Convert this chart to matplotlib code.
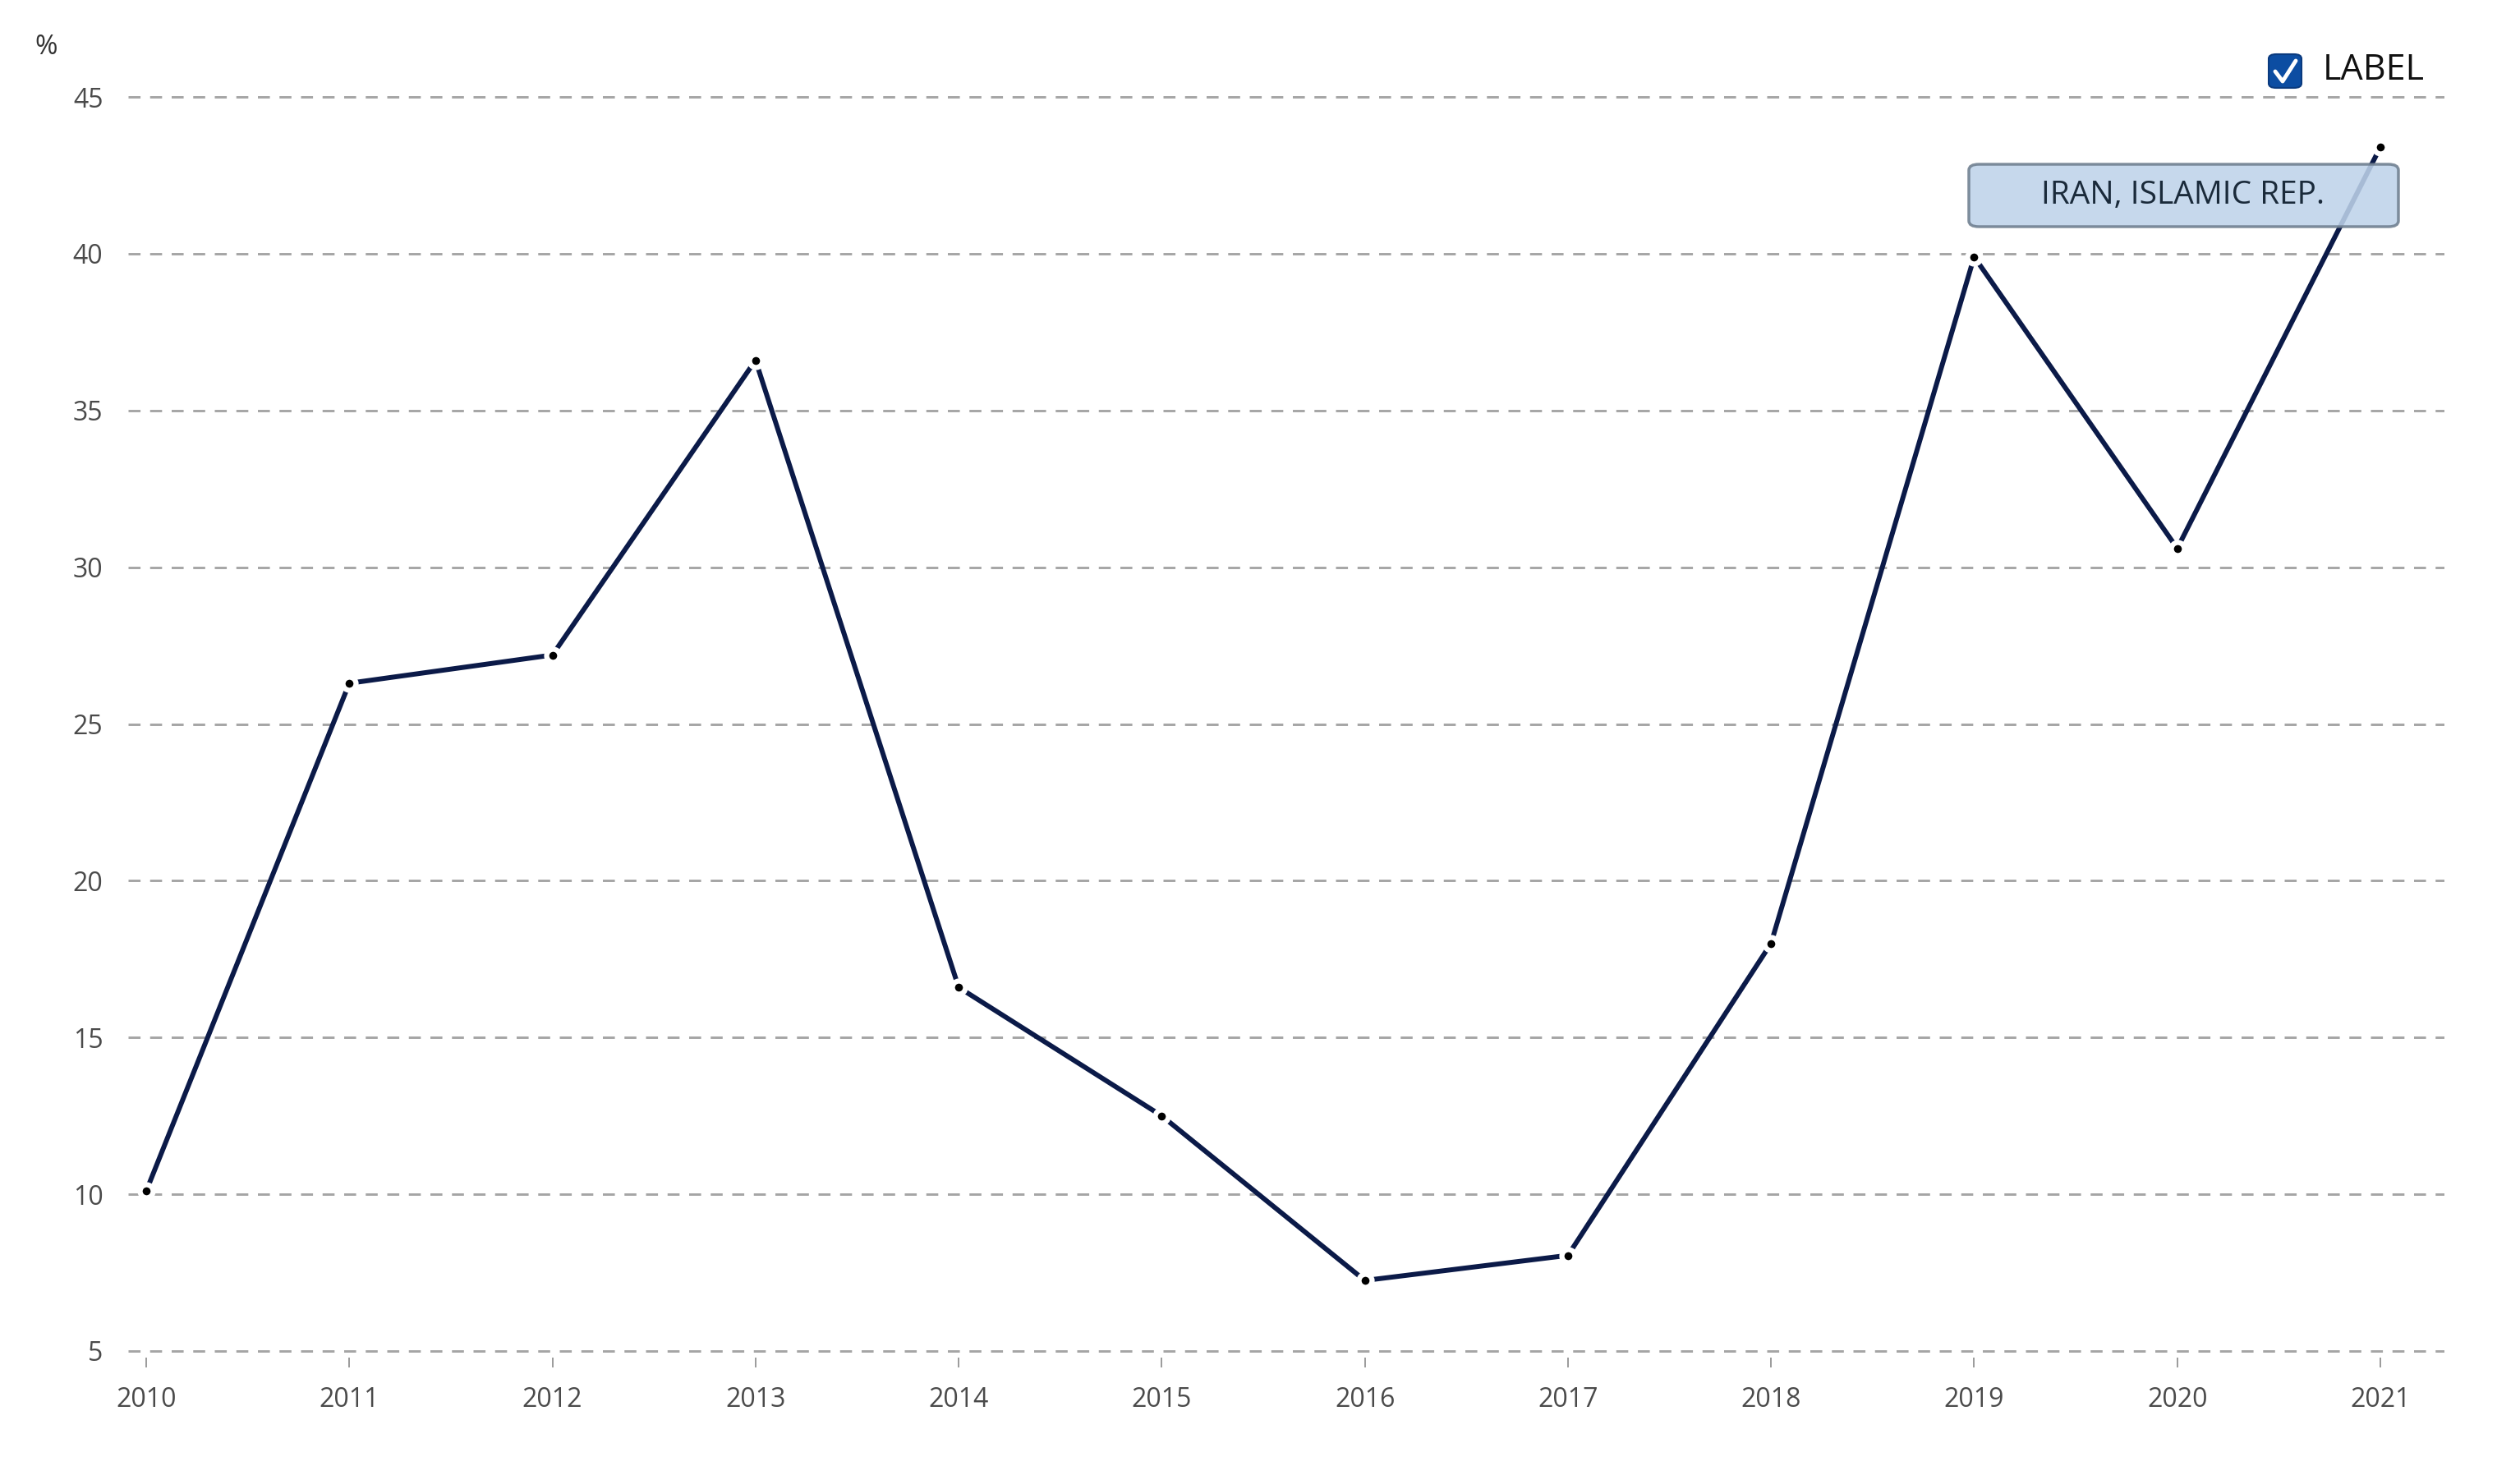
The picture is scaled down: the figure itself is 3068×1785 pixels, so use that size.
import matplotlib.pyplot as plt
from matplotlib.patches import FancyBboxPatch
import numpy as np

# values
years = [2010, 2011, 2012, 2013, 2014, 2015, 2016, 2017, 2018, 2019, 2020, 2021]
values = [10.1, 26.3, 27.2, 36.6, 16.6, 12.5, 7.25, 8.05, 18.0, 39.9, 30.6, 43.4]
yticks = [5, 10, 15, 20, 25, 30, 35, 40, 45]
series_name = "IRAN, ISLAMIC REP."
legend_text = "LABEL"

W, H = 3068, 1785
plt.rcParams['font.family'] = ['Open Sans', 'DejaVu Sans']

fig = plt.figure(figsize=(W / 100, H / 100), dpi=100)

def fx(x):
    return x / W

def fy(y):
    return 1 - y / H

# axes placement (pixels of the reference)
left, right = 156, 2976
top, bottom = 110.4, 1652.6
ax = fig.add_axes([fx(left), fy(bottom), fx(right) - fx(left), fy(top) - fy(bottom)])
ax.set_xlim(2010 - 22 / 247.3, 2021 + 78 / 247.3)
ax.set_ylim(4.8, 45.2)

for y in yticks:
    ax.axhline(y, color='#a5a5a5', lw=2.1, ls=(0, (5, 4)), zorder=1)

ax.plot(years, values, color='#0b1a48', lw=4.3, zorder=3, solid_capstyle='butt')
ax.plot(years, values, ls='none', marker='o', markersize=11.5, markerfacecolor='black',
        markeredgecolor='white', markeredgewidth=4.5, zorder=4)

for s in ax.spines.values():
    s.set_visible(False)

ax.set_xticks(years)
ax.set_xticklabels([str(y) for y in years])
ax.set_yticks(yticks)
ax.set_yticklabels([str(y) for y in yticks])
ax.tick_params(axis='x', length=8.6, width=1.2, color='#8a8a8a', pad=17,
               labelsize=23, labelcolor='#4a4a4a')
ax.tick_params(axis='y', length=0, pad=22, labelsize=23, labelcolor='#4a4a4a')

fig.text(fx(56), fy(57), '%', fontsize=24, color='#333333', ha='center', va='center')

# series label box
box = FancyBboxPatch((fx(2397), fy(276)), fx(2920) - fx(2397), fy(200) - fy(276),
                     boxstyle='round,pad=0,rounding_size=0.004', transform=fig.transFigure,
                     facecolor='#bed3ea', edgecolor='#6e7e8f', lw=2.5, alpha=0.88, zorder=10)
fig.patches.append(box)
fig.text(fx(2658), fy(238), series_name, fontsize=28, color='#1a2a3a',
         ha='center', va='center', zorder=11)

# checkbox + legend text
cb = FancyBboxPatch((fx(2762), fy(107)), fx(2802) - fx(2762), fy(66) - fy(107),
                    boxstyle='round,pad=0,rounding_size=0.003', transform=fig.transFigure,
                    facecolor='#0c4da2', edgecolor='#0a3a7e', lw=1.5, zorder=10)
fig.patches.append(cb)
cx = np.array([2770, 2779, 2795])
cy = np.array([87, 99, 74])
fig.lines.append(plt.Line2D(fx(cx), fy(cy), transform=fig.transFigure, color='white',
                            lw=3.5, solid_capstyle='round', zorder=11))
fig.text(fx(2828), fy(86), legend_text, fontsize=31, color='#111111',
         ha='left', va='center')

fig.savefig('out.png', dpi=100, facecolor='white')
